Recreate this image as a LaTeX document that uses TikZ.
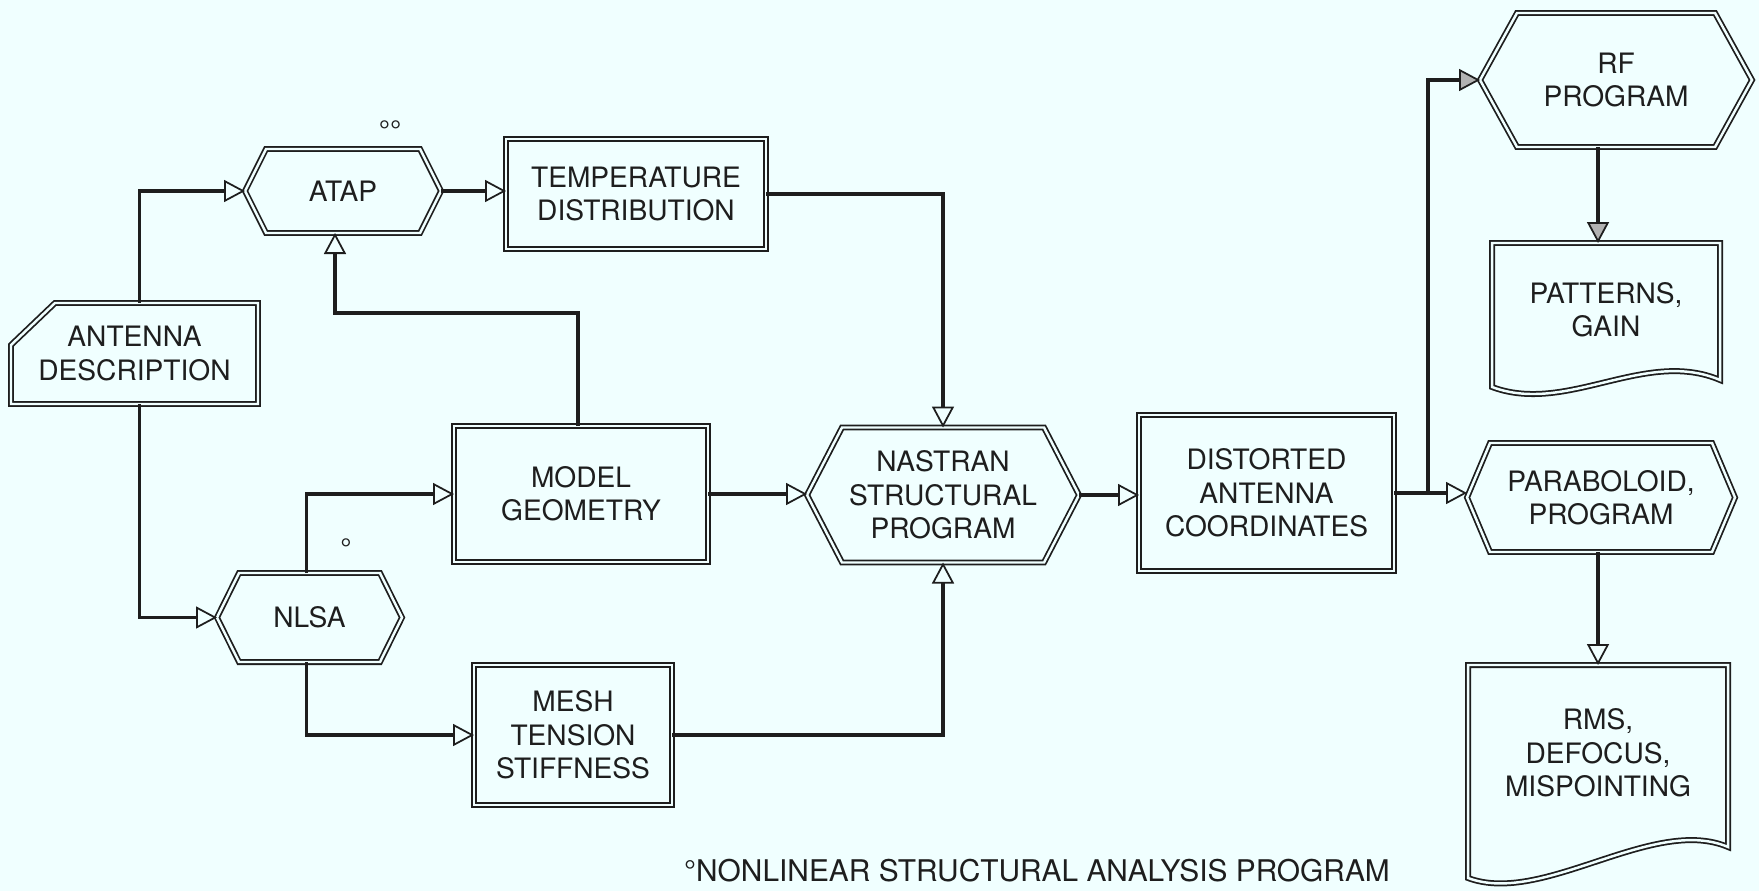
\documentclass[tikz,border=0pt]{standalone}
\usepackage{fontspec}
\setmainfont{TeX Gyre Heros}
\usetikzlibrary{arrows.meta}

\definecolor{paper}{RGB}{240,255,255}
\definecolor{ink}{RGB}{30,30,30}

\tikzset{
    boxline/.style={draw=ink, line width=0.5pt, double=paper, double distance=0.7pt},
    block/.style={rectangle, outer sep=0pt, inner sep=0pt, align=center, text=ink,
        font=\fontsize{8}{9.5}\selectfont},
    procbox/.style={block, boxline},
    flow/.style={draw=ink, line width=1pt,
        -{Triangle[open, length=2.1mm, width=2.2mm, line width=0.5pt]}},
    flowfill/.style={draw=ink, line width=1pt,
        -{Triangle[length=2.1mm, width=2.2mm, line width=0.5pt, fill=gray!60]}},
    footmark/.style={text=ink, inner sep=0pt, font=\fontsize{8}{9.5}\selectfont}
}

% hexagon round a node: name, slant
\newcommand{\hexoutline}[2]{%
    \draw[boxline] ([xshift=#2]#1.north west) -- ([xshift=-#2]#1.north east) -- (#1.east)
        -- ([xshift=-#2]#1.south east) -- ([xshift=#2]#1.south west) -- (#1.west) -- cycle;}

% document shape round a node: name, drop left, drop right
\newcommand{\docoutline}[3]{%
    \draw[boxline] (#1.north west) -- (#1.north east) -- ([yshift=-#3]#1.south east)
        .. controls +(-0.75,0.32) and +(0.75,-0.28) .. ([yshift=-#2]#1.south west) -- cycle;}

\begin{document}
\begin{tikzpicture}
    % paper
    \useasboundingbox (0,0) rectangle (17.59,8.91);
    \fill[paper] (0,0) rectangle (17.59,8.91);

    % boxes
    \node[block, minimum width=2.47cm, minimum height=1.01cm] (ant) at (1.345,5.375) {ANTENNA\\DESCRIPTION};
    \node[block, minimum width=1.96cm, minimum height=0.84cm] (atap) at (3.43,7.00) {ATAP};
    \node[procbox, minimum width=2.60cm, minimum height=1.10cm] (temp) at (6.36,6.97) {TEMPERATURE\\DISTRIBUTION};
    \node[procbox, minimum width=2.54cm, minimum height=1.36cm] (model) at (5.81,3.97) {MODEL\\GEOMETRY};
    \node[block, minimum width=1.85cm, minimum height=0.89cm] (nlsa) at (3.095,2.735) {NLSA};
    \node[procbox, minimum width=1.98cm, minimum height=1.40cm] (mesh) at (5.73,1.56) {MESH\\TENSION\\STIFFNESS};
    \node[block, minimum width=2.72cm, minimum height=1.35cm] (nastran) at (9.43,3.96) {NASTRAN\\STRUCTURAL\\PROGRAM};
    \node[procbox, minimum width=2.55cm, minimum height=1.56cm] (dist) at (12.665,3.98) {DISTORTED\\ANTENNA\\COORDINATES};
    \node[block, minimum width=2.72cm, minimum height=1.34cm] (rf) at (16.16,8.11) {RF\\PROGRAM};
    \node[block, minimum width=2.28cm, minimum height=1.34cm] (pat) at (16.06,5.81) {PATTERNS,\\GAIN};
    \node[block, minimum width=2.68cm, minimum height=1.09cm] (parab) at (16.01,3.935) {PARABOLOID,\\PROGRAM};
    \node[block, minimum width=2.60cm, minimum height=1.76cm] (rms) at (15.98,1.38) {RMS,\\DEFOCUS,\\MISPOINTING};

    % outlines
    \draw[boxline] (ant.south west) -- ([yshift=-0.42cm]ant.north west) -- ([xshift=0.44cm]ant.north west)
        -- (ant.north east) -- (ant.south east) -- cycle;
    \hexoutline{atap}{0.21cm}
    \hexoutline{nlsa}{0.22cm}
    \hexoutline{nastran}{0.35cm}
    \hexoutline{rf}{0.37cm}
    \hexoutline{parab}{0.23cm}
    \docoutline{pat}{0.10cm}{0.03cm}
    \docoutline{rms}{0.37cm}{0.06cm}

    % left side
    \draw[flow] ([xshift=0.05cm]ant.north) |- (atap.west);
    \draw[flow] ([xshift=0.05cm]ant.south) |- (nlsa.west);
    \draw[flow] (atap.east) -- (atap.east -| temp.west);
    \draw[flow] ([xshift=-0.03cm]model.north) -- ++(0,1.13) -| ([xshift=-0.08cm]atap.south);
    \draw[flow] ([xshift=-0.03cm]nlsa.north) |- (model.west);
    \draw[flow] ([xshift=-0.03cm]nlsa.south) |- (mesh.west);

    % into nastran
    \draw[flow] (temp.east) -| (nastran.north);
    \draw[flow] (model.east) -- (model.east -| nastran.west);
    \draw[flow] (mesh.east) -| (nastran.south);
    \draw[flow] (nastran.east) -- (nastran.east -| dist.west);

    % right side
    \coordinate (split) at ([xshift=0.34cm]dist.east);
    \draw[ink, line width=1pt] (dist.east) -- (split);
    \draw[flowfill] (split) |- (rf.west);
    \draw[flow] (split) -- (split -| parab.west);
    \draw[flowfill] ([xshift=-0.08cm]rf.south -| pat.north) -- ([xshift=-0.08cm]pat.north);
    \draw[flow] (parab.south -| rms.north) -- (rms.north);

    % footnote marks
    \node[footmark] (atapmark) at (3.90,7.60) {°°};
    \node[footmark] (nlsamark) at (3.46,3.42) {°};
    \node[footmark, font=\fontsize{8.5}{10}\selectfont] (footnote) at (10.37,0.20) {°NONLINEAR STRUCTURAL ANALYSIS PROGRAM};
\end{tikzpicture}
\end{document}
